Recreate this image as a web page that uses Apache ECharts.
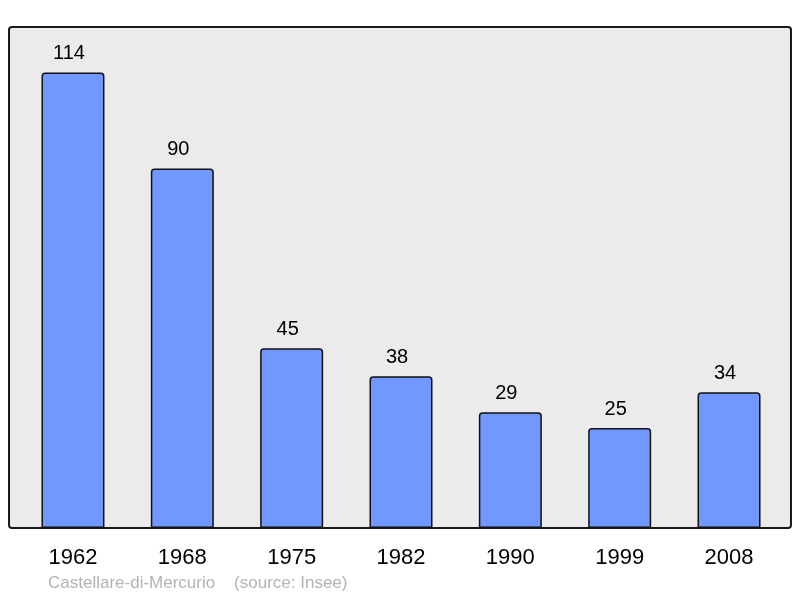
<!DOCTYPE html>
<html><head><meta charset="utf-8">
<script src="https://cdn.jsdelivr.net/npm/echarts@6/dist/echarts.min.js"></script>
<style>html,body{margin:0;padding:0;background:#fff}#c{width:800px;height:598px}</style>
</head><body><div id="c"></div>
<script>
const years = ['1962','1968','1975','1982','1990','1999','2008'];
const population = [114, 90, 45, 38, 29, 25, 34];
const sourceText = 'Castellare-di-Mercurio    (source: Insee)';

const chart = echarts.init(document.getElementById('c'), null, {renderer:'canvas'});
chart.setOption({
  animation: false,
  backgroundColor: '#ffffff',
  grid: {left: 18.3, width: 765.4, top: 27, bottom: 70, containLabel: false},
  graphic: [
    {type:'rect', z:-10, shape:{x:9, y:27, width:782, height:501, r:3},
     style:{fill:'#ebebeb', stroke:'#1a1a1a', lineWidth:2}},
    {type:'text', left:48, top:575, style:{text:sourceText, fill:'#b3b3b3', font:'17px "Liberation Sans", Arial, sans-serif'}}
  ],
  xAxis: {
    type:'category', data: years, boundaryGap: true,
    axisLine:{show:false}, axisTick:{show:false},
    axisLabel:{color:'#000', fontSize:22, fontFamily:'"Liberation Sans", Arial, sans-serif', margin:19}
  },
  yAxis: {type:'value', min:0, max:125.4, show:false, splitLine:{show:false}},
  series: [{
    type:'bar', data: population, barWidth:63,
    itemStyle:{color:'#7098ff', borderColor:'#111', borderWidth:1.5, borderRadius:[3,3,0,0]},
    label:{show:true, position:'top', distance:9, offset:[-4,0], color:'#000', fontSize:20, fontFamily:'"Liberation Sans", Arial, sans-serif'}
  }]
});
</script></body></html>
